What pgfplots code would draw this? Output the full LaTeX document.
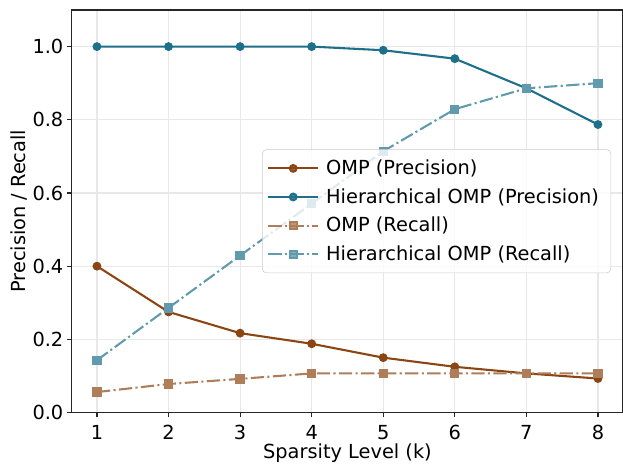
\documentclass[border=0pt]{standalone}
\usepackage{fontspec}
\setmainfont{DejaVu Sans}
\usepackage{pgfplots}
\pgfplotsset{compat=1.18}

\definecolor{ompc}{HTML}{8B4513}
\definecolor{hompc}{HTML}{1D6F8A}
\colorlet{ompr}{ompc!70!white}
\colorlet{hompr}{hompc!70!white}

\begin{document}
\begin{tikzpicture}
\begin{axis}[
    scale only axis,
    width=397bp,
    height=290bp,
    xmin=0.65, xmax=8.35,
    ymin=0, ymax=1.1,
    xtick={1,...,8},
    ytick={0,0.2,0.4,0.6,0.8,1.0},
    yticklabel style={/pgf/number format/fixed, /pgf/number format/fixed zerofill,
        /pgf/number format/precision=1, anchor=east, inner sep=0pt, xshift=-2.5bp},
    /pgf/number format/assume math mode=true,
    tick align=outside,
    tick pos=left,
    major tick length=3.5bp,
    tick style={black!85, line width=0.8bp},
    axis line style={black!85, line width=0.8bp},
    grid=major,
    grid style={black!9, line width=0.8bp},
    xlabel={Sparsity Level (k)},
    ylabel={Precision / Recall},
    xlabel style={at={(axis description cs:0.5,-0.1141)}, anchor=base},
    ylabel style={at={(axis description cs:-0.0851,0.5)}, anchor=base},
    xticklabel style={anchor=center, yshift=-10.8bp},
    ticklabel style={font=\fontsize{14}{17}\selectfont},
    label style={font=\fontsize{14}{17}\selectfont},
    legend style={
        at={(rel axis cs:1,0.5)}, anchor=east, xshift=-8.6bp,
        draw=black!20, rounded corners=3pt, fill=white, fill opacity=0.8, text opacity=1,
        font=\fontsize{14}{17}\selectfont,
        row sep=0.5bp, inner sep=3.5pt,
        nodes={inner xsep=5bp, inner ysep=4bp},
    },
    legend cell align=left,
    legend image code/.code={
        \draw[mark repeat=2,mark phase=2,#1] plot coordinates {(0bp,0bp) (18bp,0bp) (36bp,0bp)};
    },
]
\coordinate (ll) at (rel axis cs:0,0);
\coordinate (ur) at (rel axis cs:1,1);
\addplot[ompc, line width=1.5bp, mark=*, mark size=2.4bp] coordinates {
    (1,0.400) (2,0.275) (3,0.217) (4,0.188) (5,0.150) (6,0.125) (7,0.107) (8,0.093)
};
\addplot[hompc, line width=1.5bp, mark=*, mark size=2.4bp] coordinates {
    (1,1.000) (2,1.000) (3,1.000) (4,1.000) (5,0.990) (6,0.967) (7,0.886) (8,0.787)
};
\addplot[ompr, line width=1.5bp, mark=square*, mark size=2.6bp,
    dash pattern=on 9.6bp off 2.4bp on 1.5bp off 2.4bp,
    mark options={solid}] coordinates {
    (1,0.056) (2,0.078) (3,0.092) (4,0.107) (5,0.107) (6,0.107) (7,0.107) (8,0.107)
};
\addplot[hompr, line width=1.5bp, mark=square*, mark size=2.6bp,
    dash pattern=on 9.6bp off 2.4bp on 1.5bp off 2.4bp,
    mark options={solid}] coordinates {
    (1,0.143) (2,0.286) (3,0.429) (4,0.571) (5,0.714) (6,0.829) (7,0.886) (8,0.900)
};
\legend{OMP (Precision), Hierarchical OMP (Precision), OMP (Recall), Hierarchical OMP (Recall)}
\end{axis}
\pgfresetboundingbox
\path ([shift={(-51.8bp,-36.7bp)}]ll) rectangle ([yshift=7.2bp]ur);
\end{tikzpicture}
\end{document}
